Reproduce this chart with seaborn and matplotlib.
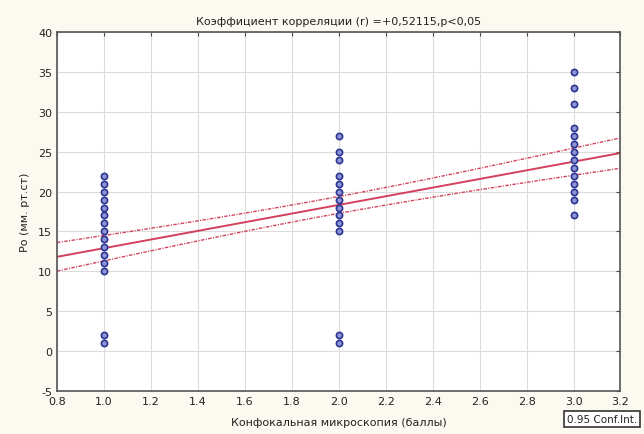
import numpy as np
import pandas as pd
import matplotlib
matplotlib.use("Agg")
import matplotlib.pyplot as plt
import seaborn as sns

# Data (values per score, with estimated counts of overlapping points)
score_1 = [22, 21, 20, 19, 18, 17, 16, 15, 14, 13, 12, 11, 10, 2, 1]
count_1 = [1, 1, 1, 1, 2, 2, 3, 3, 3, 3, 4, 3, 3, 2, 2]
score_2 = [27, 25, 24, 22, 21, 20, 19, 18, 17, 16, 15, 2, 1]
count_2 = [1, 1, 1, 2, 3, 3, 3, 3, 3, 3, 2, 1, 1]
score_3 = [35, 33, 31, 28, 27, 26, 25, 24, 23, 22, 21, 20, 19, 17]
count_3 = [1, 1, 1, 1, 2, 2, 3, 3, 3, 3, 3, 3, 2, 1]
x_ticks = [0.8, 1.0, 1.2, 1.4, 1.6, 1.8, 2.0, 2.2, 2.4, 2.6, 2.8, 3.0, 3.2]
y_ticks = [-5, 0, 5, 10, 15, 20, 25, 30, 35, 40]

df = pd.DataFrame({
    "x": [1.0] * sum(count_1) + [2.0] * sum(count_2) + [3.0] * sum(count_3),
    "y": np.concatenate([np.repeat(score_1, count_1), np.repeat(score_2, count_2),
                         np.repeat(score_3, count_3)]),
})

# linear fit with 95% confidence band for the mean
n = len(df)
b1, b0 = np.polyfit(df.x, df.y, 1)
resid = df.y - (b0 + b1 * df.x)
s = np.sqrt((resid ** 2).sum() / (n - 2))
xs = np.linspace(0.8, 3.2, 100)
se = s * np.sqrt(1 / n + (xs - df.x.mean()) ** 2 / ((df.x - df.x.mean()) ** 2).sum())
t = 1.987  # t(0.975, ~88)
fit = pd.DataFrame({"x": xs, "y": b0 + b1 * xs, "lo": b0 + b1 * xs - t * se, "hi": b0 + b1 * xs + t * se})

sns.set_style("white")
plt.rcParams["font.family"] = ["DejaVu Sans"]
plt.rcParams["axes.unicode_minus"] = False

fig = plt.figure(figsize=(6.44, 4.35), dpi=100, facecolor="#fcfaf0")
ax = fig.add_axes([0.0885, 0.099, 0.875, 0.825])
ax.set_facecolor("white")

red = "#d2405c"
sns.lineplot(data=fit, x="x", y="y", color=red, lw=1.4, ax=ax)
sns.lineplot(data=fit, x="x", y="lo", color=red, lw=1.0, ls=(0, (2.5, 1, 0.8, 1)), ax=ax)
sns.lineplot(data=fit, x="x", y="hi", color=red, lw=1.0, ls=(0, (2.5, 1, 0.8, 1)), ax=ax)
sns.scatterplot(data=df.drop_duplicates(), x="x", y="y", s=20, marker="o", facecolor="#8d94d8",
                edgecolor="#2e3590", linewidth=1.2, ax=ax, zorder=3)

ax.set_xlim(0.8, 3.2)
ax.set_ylim(-5, 40)
ax.set_xticks(x_ticks)
ax.set_xticklabels([f"{v:.1f}" for v in x_ticks])
ax.set_yticks(y_ticks)
ax.grid(True, color="#dcdcdc", lw=0.8)
ax.tick_params(direction="in", length=3, labelsize=8, top=True, right=True, colors="#444444",
               labelcolor="#222222")
for sp in ax.spines.values():
    sp.set_color("#555555")
    sp.set_linewidth(1.2)

ax.set_title("Коэффициент корреляции (r) =+0,52115,p<0,05", fontsize=8, color="#222222", pad=6)
ax.set_xlabel("Конфокальная микроскопия (баллы)", fontsize=8, color="#222222", labelpad=8)
ax.set_ylabel("Ро (мм. рт.ст)", fontsize=8, color="#222222", labelpad=6)

fig.text(0.935, 0.035, "0.95 Conf.Int.", fontsize=7.5, ha="center", va="center", color="#222222",
         bbox=dict(boxstyle="square,pad=0.3", fc="white", ec="#333333", lw=1.2))

fig.savefig("out.png", dpi=100, facecolor=fig.get_facecolor())
